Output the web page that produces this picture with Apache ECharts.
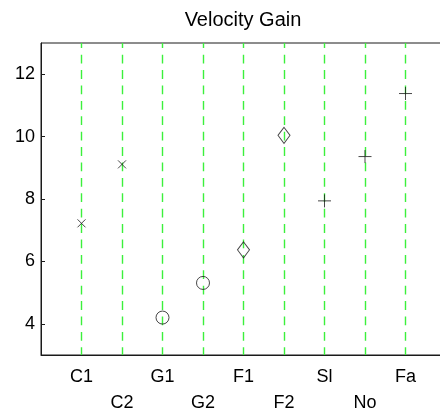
<!DOCTYPE html>
<html>
<head>
<meta charset="utf-8">
<script src="https://cdn.jsdelivr.net/npm/echarts@6/dist/echarts.min.js"></script>
<style>
html,body{margin:0;padding:0;background:#fff;}
#chart{width:440px;height:414px;}
</style>
</head>
<body>
<div id="chart"></div>
<script>
const titleText = 'Velocity Gain';
const categories = ['C1','C2','G1','G2','F1','F2','Sl','No','Fa'];
const gains = [7.22, 9.11, 4.20, 5.31, 6.37, 10.04, 7.94, 9.36, 11.38];
const markerKinds = ['x','x','o','o','d','d','+','+','+'];
const yTicks = [4, 6, 8, 10, 12];

const ink = '#1a1a1a';
const font = 'Liberation Sans, Arial, sans-serif';
const gridGreen = '#3cf03c';

const markerDefs = {
  'x': {symbol: 'path://M0,0L10,10M10,0L0,10', size: 8},
  'o': {symbol: 'circle', size: 13},
  'd': {symbol: 'diamond', size: [12, 16]},
  '+': {symbol: 'path://M5,0L5,10M0,5L10,5', size: 13}
};

const series = Object.keys(markerDefs).map(kind => ({
  type: 'scatter',
  symbol: markerDefs[kind].symbol,
  symbolSize: markerDefs[kind].size,
  itemStyle: {color: 'rgba(0,0,0,0)', borderColor: ink, borderWidth: 1},
  emphasis: {disabled: true},
  data: categories.map((c, i) => markerKinds[i] === kind ? [i + 1, gains[i]] : null).filter(d => d),
  z: 5
}));

// first split line (at the y axis) hidden, one green line per category
const splitColors = ['rgba(0,0,0,0)'].concat(categories.map(() => gridGreen), ['rgba(0,0,0,0)']);

const chart = echarts.init(document.getElementById('chart'), null, {renderer: 'canvas'});
chart.setOption({
  animation: false,
  graphic: [{
    type: 'text',
    x: 243, y: 10,
    style: {text: titleText, textAlign: 'center', textVerticalAlign: 'top',
            fontFamily: font, fontSize: 20, fill: '#000'}
  }],
  grid: {
    left: 41, top: 43, right: -6, bottom: 59,
    outerBoundsMode: 'none', containLabel: false,
    show: true, borderColor: ink, borderWidth: 1, backgroundColor: 'transparent'
  },
  xAxis: {
    type: 'value', min: 0, max: 10, interval: 1,
    axisLine: {show: true, lineStyle: {color: ink, width: 1}},
    axisTick: {show: false},
    splitLine: {show: true, lineStyle: {color: splitColors, width: 1.4, type: [8.8, 6.6], dashOffset: 3.7}},
    axisLabel: {
      margin: 9,
      fontFamily: font, fontSize: 18, color: '#000', lineHeight: 26,
      formatter: v => {
        const i = Math.round(v) - 1;
        if (i < 0 || i >= categories.length) return '';
        return i % 2 === 0 ? categories[i] : '\n' + categories[i];
      }
    }
  },
  yAxis: {
    type: 'value', min: 3, max: 13,
    axisLine: {show: true, lineStyle: {color: ink, width: 1}},
    axisTick: {show: true, inside: true, length: 4, customValues: yTicks, lineStyle: {color: ink}},
    splitLine: {show: false},
    axisLabel: {customValues: yTicks, margin: 6, fontFamily: font, fontSize: 18, color: '#000'}
  },
  series: series
});
</script>
</body>
</html>
